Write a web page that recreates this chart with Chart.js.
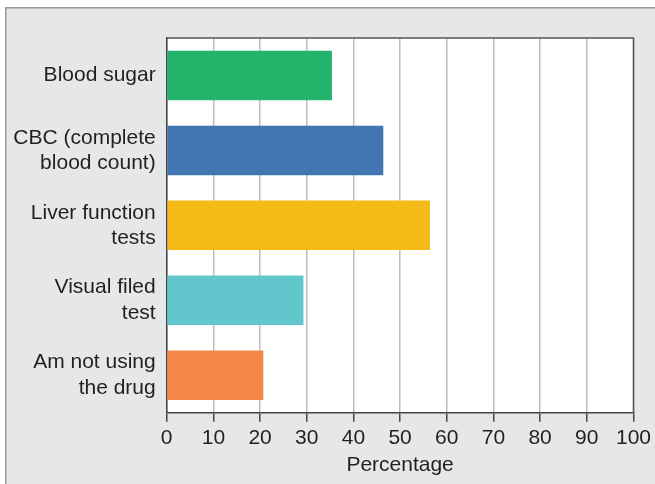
<!DOCTYPE html>
<html>
<head>
<meta charset="utf-8">
<script src="https://cdn.jsdelivr.net/npm/chart.js@4"></script>
<style>
  html, body { margin: 0; padding: 0; background: #ffffff; }
  #wrap { width: 655px; height: 484px; }
</style>
</head>
<body>
<div id="wrap"><canvas id="chart" width="655" height="484"></canvas></div>
<script>
// Tests done while using the drug (percentage of respondents)
const categories = [
  ['Blood sugar'],
  ['CBC (complete', 'blood count)'],
  ['Liver function', 'tests'],
  ['Visual filed', 'test'],
  ['Am not using', 'the drug']
];
const percentages = [35.4, 46.4, 56.4, 29.3, 20.7];
const barColors = ['#23b36a', '#4276b3', '#f6bb19', '#61c7cc', '#f6874a'];
const xTicks = [0, 10, 20, 30, 40, 50, 60, 70, 80, 90, 100];

const FONT = 'Liberation Sans, Arial, Helvetica, sans-serif';
const TEXT = '#231f20';

// Grey panel behind the whole figure, with a frame on its left and top edges
const panelBackground = {
  id: 'panelBackground',
  beforeDraw(chart) {
    const ctx = chart.ctx;
    ctx.save();
    ctx.fillStyle = '#ffffff';
    ctx.fillRect(0, 0, chart.width, chart.height);
    ctx.fillStyle = '#e6e7e8';
    ctx.fillRect(5, 7, chart.width - 5, chart.height - 7);
    ctx.strokeStyle = '#9a9a9a';
    ctx.lineWidth = 1.5;
    ctx.beginPath();
    ctx.moveTo(5.75, chart.height);
    ctx.lineTo(5.75, 7.75);
    ctx.lineTo(chart.width, 7.75);
    ctx.stroke();
    // white plot area
    const a = chart.chartArea;
    ctx.fillStyle = '#ffffff';
    ctx.fillRect(a.left, a.top, a.right - a.left, a.bottom - a.top);
    ctx.restore();
  }
};

// Dark frame along the top and right of the plot area
const plotFrame = {
  id: 'plotFrame',
  afterDatasetsDraw(chart) {
    const a = chart.chartArea;
    const ctx = chart.ctx;
    ctx.save();
    ctx.strokeStyle = '#555555';
    ctx.lineWidth = 1.5;
    ctx.beginPath();
    ctx.moveTo(a.left, a.top);
    ctx.lineTo(a.right, a.top);
    ctx.lineTo(a.right, a.bottom);
    ctx.stroke();
    ctx.restore();
  }
};

new Chart(document.getElementById('chart'), {
  type: 'bar',
  data: {
    labels: categories,
    datasets: [{
      data: percentages,
      backgroundColor: barColors,
      borderWidth: 0,
      categoryPercentage: 1.0,
      barPercentage: 0.66
    }]
  },
  options: {
    indexAxis: 'y',
    responsive: false,
    animation: false,
    layout: { padding: { top: 38, right: 21, left: 0, bottom: 0 } },
    plugins: {
      legend: { display: false },
      tooltip: { enabled: false }
    },
    scales: {
      x: {
        min: 0,
        max: 100,
        afterBuildTicks(scale) {
          scale.ticks = xTicks.map(v => ({ value: v }));
        },
        afterFit(scale) { scale.height = 71.3; },
        grid: {
          color: '#bdbdbd',
          lineWidth: 1.5,
          drawTicks: true,
          tickLength: 9,
          tickColor: '#444444',
          tickWidth: 1.5
        },
        border: { display: true, color: '#444444', width: 1.5 },
        ticks: {
          color: TEXT,
          padding: 4,
          font: { family: FONT, size: 21 }
        },
        title: {
          display: true,
          text: 'Percentage',
          color: TEXT,
          padding: { top: 0, bottom: 6 },
          font: { family: FONT, size: 21 }
        }
      },
      y: {
        afterFit(scale) { scale.width = 166.7; },
        grid: { display: false, drawTicks: false },
        border: { display: true, color: '#444444', width: 1.5 },
        ticks: {
          color: TEXT,
          padding: 11,
          font: { family: FONT, size: 21, lineHeight: 1.2 }
        }
      }
    }
  },
  plugins: [panelBackground, plotFrame]
});
</script>
</body>
</html>
